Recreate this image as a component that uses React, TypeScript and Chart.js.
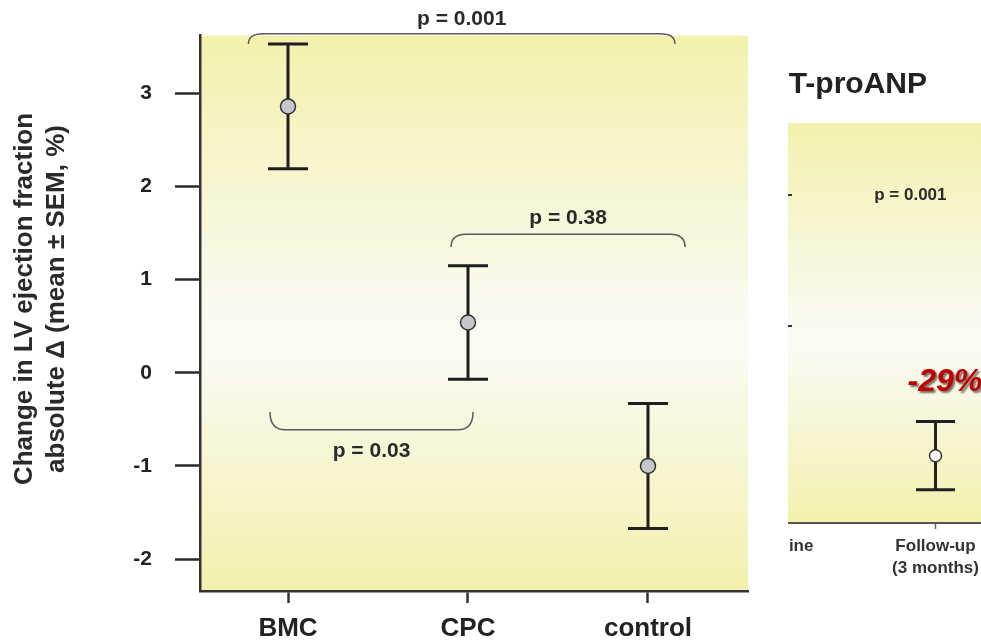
import React, { useEffect, useRef } from 'react';
import { Chart, registerables } from 'chart.js';

Chart.register(...registerables);

const FONT = '"Liberation Sans", Arial, Helvetica, sans-serif';
Chart.defaults.font.family = FONT;

// ---- main panel data ----
const categories = ['BMC', 'CPC', 'control'];
const meanDelta = [2.86, 0.54, -1.0];
const semDelta = [0.67, 0.61, 0.67];
const yTickValues = [-2, -1, 0, 1, 2, 3];
const yTitleLines = ['Change in LV ejection fraction', 'absolute \u0394 (mean \u00b1 SEM, %)'];

// p-value comparisons (text) and where their brackets sit (data units)
const pValueLabels = ['p = 0.001', 'p = 0.38', 'p = 0.03'];
const bracketLayout = [
  { from: 0.78, to: 3.15, level: 3.64, tip: 3.53, textY: 3.80 },
  { from: 1.906, to: 3.206, level: 1.487, tip: 1.35, textY: 1.66 },
  { from: 0.9, to: 2.028, level: -0.61, tip: -0.42, textY: -0.845 },
];

// ---- inset panel (NT-proANP, partially visible) ----
const insetTitle = 'NT-proANP';
const insetCategories: (string | string[])[] = ['Baseline', ['Follow-up', '(3 months)']];
const insetMean: (number | null)[] = [null, 2010];
const insetSem: (number | null)[] = [null, 260];
const insetTickValues = [3000, 4000];
const insetNoteTexts = ['p = 0.001', '-29%'];
const insetNoteLayout = [
  { x: 0.84, y: 4000, font: 'bold 17px ' + FONT, color: '#2a2a2a', shadow: false },
  { x: 1.06, y: 2573, font: 'italic bold 32px ' + FONT, color: '#c00000', shadow: true },
];

const bgGradient = {
  id: 'bgGradient',
  beforeDraw(chart: any, _a: any, opts: any) {
    const { ctx, chartArea: a } = chart;
    const g = ctx.createLinearGradient(0, a.top, 0, a.bottom);
    opts.stops.forEach(([o, c]: [number, string]) => g.addColorStop(o, c));
    ctx.save();
    ctx.fillStyle = g;
    ctx.fillRect(a.left, a.top, a.right - a.left, a.bottom - a.top);
    ctx.restore();
  },
};

const errorBars = {
  id: 'errorBars',
  beforeDatasetsDraw(chart: any, _a: any, opts: any) {
    const { ctx } = chart;
    const y = chart.scales.y;
    const meta = chart.getDatasetMeta(0);
    ctx.save();
    ctx.strokeStyle = opts.color;
    ctx.lineWidth = opts.width;
    ctx.lineCap = 'butt';
    opts.means.forEach((m: number | null, i: number) => {
      const s = opts.sems[i];
      if (m == null || s == null) return;
      const px = meta.data[i].x;
      const yTop = y.getPixelForValue(m + s);
      const yBot = y.getPixelForValue(m - s);
      ctx.beginPath();
      ctx.moveTo(px, yTop);
      ctx.lineTo(px, yBot);
      ctx.moveTo(px - opts.capHalf, yTop);
      ctx.lineTo(px + opts.capHalf, yTop);
      ctx.moveTo(px - opts.capHalf, yBot);
      ctx.lineTo(px + opts.capHalf, yBot);
      ctx.stroke();
    });
    ctx.restore();
  },
};

const brackets = {
  id: 'brackets',
  afterDraw(chart: any, _a: any, opts: any) {
    const { ctx } = chart;
    const { x, y } = chart.scales;
    ctx.save();
    opts.labels.forEach((label: string, i: number) => {
      const b = opts.layout[i];
      const x1 = x.getPixelForValue(b.from);
      const x2 = x.getPixelForValue(b.to);
      const yl = y.getPixelForValue(b.level);
      const yt = y.getPixelForValue(b.tip);
      const r = 15;
      ctx.beginPath();
      ctx.moveTo(x1, yt);
      ctx.quadraticCurveTo(x1, yl, x1 + r, yl);
      ctx.lineTo(x2 - r, yl);
      ctx.quadraticCurveTo(x2, yl, x2, yt);
      ctx.strokeStyle = '#5a5a5a';
      ctx.lineWidth = 1.5;
      ctx.stroke();
      ctx.font = 'bold 21px ' + FONT;
      ctx.fillStyle = '#2a2a2a';
      ctx.textAlign = 'center';
      ctx.textBaseline = 'middle';
      ctx.fillText(label, (x1 + x2) / 2, y.getPixelForValue(b.textY));
    });
    ctx.restore();
  },
};

const yTitle = {
  id: 'yTitle',
  afterDraw(chart: any, _a: any, opts: any) {
    const { ctx } = chart;
    ctx.save();
    ctx.font = 'bold 26px ' + FONT;
    ctx.fillStyle = '#2a2a2a';
    ctx.textAlign = 'center';
    ctx.textBaseline = 'middle';
    opts.lines.forEach((line: string, i: number) => {
      ctx.save();
      ctx.translate(opts.xs[i], opts.cy);
      ctx.rotate(-Math.PI / 2);
      ctx.fillText(line, 0, 0);
      ctx.restore();
    });
    ctx.restore();
  },
};

const notes = {
  id: 'notes',
  afterDraw(chart: any, _a: any, opts: any) {
    const { ctx } = chart;
    const { x, y } = chart.scales;
    opts.texts.forEach((t: string, i: number) => {
      const n = opts.layout[i];
      ctx.save();
      ctx.font = n.font;
      ctx.fillStyle = n.color;
      ctx.textAlign = 'center';
      ctx.textBaseline = 'middle';
      if (n.shadow) {
        ctx.shadowColor = 'rgba(0,0,0,0.55)';
        ctx.shadowOffsetX = 2;
        ctx.shadowOffsetY = 2;
        ctx.shadowBlur = 2;
      }
      ctx.fillText(t, x.getPixelForValue(n.x), y.getPixelForValue(n.y));
      ctx.restore();
    });
  },
};

const yellowStops = [
  [0, '#f3f1ad'],
  [0.5, '#fafaf2'],
  [0.58, '#fafaf2'],
  [1, '#f3f1ad'],
];

export default function App() {
  const mainRef = useRef<HTMLCanvasElement>(null);
  const insetRef = useRef<HTMLCanvasElement>(null);

  useEffect(() => {
    const main = new Chart(mainRef.current as HTMLCanvasElement, {
      type: 'scatter',
      data: {
        datasets: [
          {
            data: meanDelta.map((m, i) => ({ x: i + 1, y: m })),
            pointRadius: 7.5,
            pointHoverRadius: 7.5,
            pointBackgroundColor: '#c6c7cd',
            pointBorderColor: '#333',
            pointBorderWidth: 1.5,
          },
        ],
      },
      options: {
        responsive: false,
        animation: false,
        events: [],
        layout: { autoPadding: false, padding: { top: 33, right: 12, left: 0, bottom: 0 } },
        plugins: {
          legend: { display: false },
          tooltip: { enabled: false },
          bgGradient: { stops: yellowStops },
          errorBars: { means: meanDelta, sems: semDelta, capHalf: 20, width: 3, color: '#1e1e1e' },
          brackets: { labels: pValueLabels, layout: bracketLayout },
          yTitle: { lines: yTitleLines, xs: [25, 57], cy: 299 },
        } as any,
        scales: {
          x: {
            type: 'linear',
            min: 0.5111,
            max: 3.5556,
            afterBuildTicks: (ax: any) => {
              ax.ticks = categories.map((_, i) => ({ value: i + 1 }));
            },
            afterFit: (ax: any) => {
              ax.height = 52;
            },
            ticks: {
              callback: (v: any) => categories[Number(v) - 1] ?? '',
              font: { size: 26, weight: 'bold' },
              color: '#222',
              padding: 10,
              autoSkip: false,
              maxRotation: 0,
            },
            grid: { drawOnChartArea: false, drawTicks: true, tickLength: 12, tickWidth: 2.5, tickColor: '#333' },
            border: { display: true, color: '#333', width: 2.5 },
          },
          y: {
            type: 'linear',
            min: -2.342,
            max: 3.62,
            afterBuildTicks: (ax: any) => {
              ax.ticks = yTickValues.map((v) => ({ value: v }));
            },
            afterFit: (ax: any) => {
              ax.width = 200;
            },
            ticks: { font: { size: 21, weight: 'bold' }, color: '#222', padding: 23 },
            grid: { drawOnChartArea: false, drawTicks: true, tickLength: 25, tickWidth: 2.5, tickColor: '#2a2a2a' },
            border: { display: true, color: '#333', width: 2.5 },
          },
        },
      } as any,
      plugins: [bgGradient, errorBars, brackets, yTitle],
    });

    const inset = new Chart(insetRef.current as HTMLCanvasElement, {
      type: 'line',
      data: {
        labels: insetCategories as any,
        datasets: [
          {
            data: insetMean,
            showLine: false,
            pointRadius: 6,
            pointHoverRadius: 6,
            pointBackgroundColor: '#ffffff',
            pointBorderColor: '#333',
            pointBorderWidth: 1.5,
          },
        ],
      },
      options: {
        responsive: false,
        animation: false,
        events: [],
        layout: { autoPadding: false, padding: { left: 0, right: 0, top: 0, bottom: 0 } },
        plugins: {
          legend: { display: false },
          tooltip: { enabled: false },
          title: {
            display: true,
            text: insetTitle,
            font: { size: 30, weight: 'bold' },
            color: '#222',
            padding: { top: 27, bottom: 20 },
          },
          bgGradient: { stops: yellowStops },
          errorBars: { means: insetMean, sems: insetSem, capHalf: 19.5, width: 3, color: '#222' },
          notes: { texts: insetNoteTexts, layout: insetNoteLayout },
        } as any,
        scales: {
          x: {
            type: 'category',
            offset: true,
            afterFit: (ax: any) => {
              ax.height = 60;
            },
            ticks: { font: { size: 17, weight: 'bold', lineHeight: 1.25 }, color: '#333', padding: 7, autoSkip: false, maxRotation: 0 },
            grid: { drawOnChartArea: false, drawTicks: true, tickLength: 6, tickWidth: 1.5, tickColor: '#666', offset: false },
            border: { display: true, color: '#555', width: 2 },
          },
          y: {
            type: 'linear',
            min: 1496,
            max: 4550,
            afterBuildTicks: (ax: any) => {
              ax.ticks = insetTickValues.map((v) => ({ value: v }));
            },
            afterFit: (ax: any) => {
              ax.width = 20;
            },
            ticks: { display: false },
            grid: { drawOnChartArea: true, drawTicks: false, color: '#333', lineWidth: 2 },
            border: { display: false, dash: [4, 10000], dashOffset: -88 },
          },
        },
      } as any,
      plugins: [bgGradient, errorBars, notes],
    });

    return () => {
      main.destroy();
      inset.destroy();
    };
  }, []);

  return (
    <div
      style={{
        position: 'absolute',
        left: 0,
        top: 0,
        width: 981,
        height: 643,
        overflow: 'hidden',
        background: '#ffffff',
      }}
    >
      <canvas ref={mainRef} width={760} height={643} style={{ position: 'absolute', left: 0, top: 0 }} />
      <div style={{ position: 'absolute', left: 788, top: 0, width: 193, height: 643, overflow: 'hidden' }}>
        <canvas ref={insetRef} width={334} height={543} style={{ position: 'absolute', left: -108, top: 40 }} />
      </div>
    </div>
  );
}
